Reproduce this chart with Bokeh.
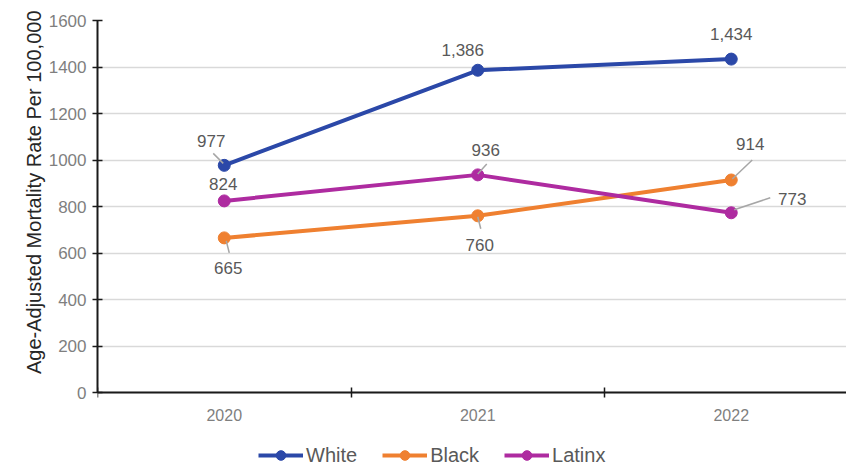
from bokeh.plotting import figure
from bokeh.models import FixedTicker, Legend, LegendItem, Title
from bokeh.core.properties import value
from bokeh.embed import file_html
from bokeh.resources import INLINE

years = ["2020", "2021", "2022"]
white = [977, 1386, 1434]
black = [665, 760, 914]
latinx = [824, 936, 773]
series_names = ["White", "Black", "Latinx"]
colors = ["#2B48A8", "#EF8030", "#AE2BA0"]
y_title = "Age-Adjusted Mortality Rate Per 100,000"

# label offsets in screen pixels (dx right, dy down) and leader segments
label_off = {
    "White": [(-13, -24), (-15, -20), (0, -25)],
    "Black": [(4, 30), (2, 29), (19, -36)],
    "Latinx": [(-1, -17), (8, -25), (61, -14)],
}
leaders = {
    "White": [((-11, -12), (-1, -2)), None, None],
    "Black": [((2, 3), (5, 15)), ((0, 1), (3, 13)), ((1, -1), (21, -20))],
    "Latinx": [None, ((0, -1), (9, -11)), ((3, -3), (39, -15))],
}

W, H = 846, 467
LEFT, TOP = 97, 20
FW = W - LEFT
FH = H - TOP
X0 = -0.5
X1 = X0 + FW / 253.5
Y1 = 1600
ppu = 372 / 1600.0            # pixels per data unit (0 -> 1600 spans 372 px)
Y0 = -(FH - 372) / ppu        # room below zero for axis labels and legend
px_x = (X1 - X0) / FW
px_y = 1.0 / ppu

p = figure(width=W, height=H, output_backend="svg", toolbar_location=None,
           x_range=(X0, X1), y_range=(Y0, Y1),
           min_border_left=LEFT, min_border_right=0, min_border_top=TOP,
           min_border_bottom=0)
p.outline_line_color = None
p.background_fill_color = "white"

p.xgrid.visible = False
p.ygrid.grid_line_color = "#D9D9D9"
p.ygrid.grid_line_width = 1.5

p.yaxis.ticker = FixedTicker(ticks=list(range(0, 1601, 200)))
p.yaxis.bounds = (0, 1600)
p.yaxis.major_label_text_font = "Liberation Sans"
p.yaxis.major_label_text_font_size = "17px"
p.yaxis.major_label_text_color = "#7F7F7F"
p.yaxis.major_label_standoff = 6
p.yaxis.major_tick_in = 5
p.yaxis.major_tick_out = 5
p.yaxis.minor_tick_line_color = None
p.yaxis.axis_line_width = 2
p.yaxis.axis_line_color = "#1A1A1A"
p.yaxis.major_tick_line_color = "#1A1A1A"
p.yaxis.major_tick_line_width = 1.5

# y-axis title, anchored near the top like the reference
p.add_layout(Title(text=y_title, align="right", offset=-10, standoff=2,
                   text_font="Liberation Sans", text_font_size="20px",
                   text_font_style="normal", text_color="#262626"), "left")

p.xaxis.fixed_location = 0
p.xaxis.ticker = FixedTicker(ticks=list(range(len(years))),
                             minor_ticks=[-0.5, 0.5, 1.5, 2.5])
p.xaxis.major_label_overrides = {i: y for i, y in enumerate(years)}
p.xaxis.major_tick_in = 0
p.xaxis.major_tick_out = 0
p.xaxis.minor_tick_in = 5
p.xaxis.minor_tick_out = 5
p.xaxis.minor_tick_line_color = "#1A1A1A"
p.xaxis.minor_tick_line_width = 1.5
p.xaxis.axis_line_width = 2
p.xaxis.axis_line_color = "#1A1A1A"
p.xaxis.major_label_text_font = "Liberation Sans"
p.xaxis.major_label_text_font_size = "16px"
p.xaxis.major_label_text_color = "#7F7F7F"
p.xaxis.major_label_standoff = 11

xs = list(range(len(years)))
items = []
for name, vals, col in zip(series_names, [white, black, latinx], colors):
    lr = p.line(xs, vals, line_color=col, line_width=4)
    sr = p.scatter(xs, vals, size=12, fill_color=col, line_color=col)
    items.append(LegendItem(label=name, renderers=[lr, sr]))
    for i, (xv, yv) in enumerate(zip(xs, vals)):
        ld = leaders[name][i]
        if ld is not None:
            (a, b), (c, d) = ld
            p.segment(x0=[xv + a * px_x], y0=[yv - b * px_y],
                      x1=[xv + c * px_x], y1=[yv - d * px_y],
                      line_color="#A6A6A6", line_width=1.5)
    lx = [xv + off[0] * px_x for xv, off in zip(xs, label_off[name])]
    ly = [yv - off[1] * px_y for yv, off in zip(vals, label_off[name])]
    txt = [f"{v:,}" for v in vals]
    p.text(lx, ly, text=txt, text_align="center", text_baseline="middle",
           text_font=value("Liberation Sans"), text_font_size="17px",
           text_color="#595959")

legend = Legend(items=items, orientation="horizontal", location=(161, 0),
                glyph_width=45, glyph_height=24, label_standoff=3, spacing=25,
                label_text_font="Liberation Sans", label_text_font_size="20px",
                label_text_color="#595959", border_line_color=None,
                background_fill_alpha=0, padding=0, margin=0)
p.add_layout(legend, "center")

open("out.html", "w").write(file_html(p, INLINE))
